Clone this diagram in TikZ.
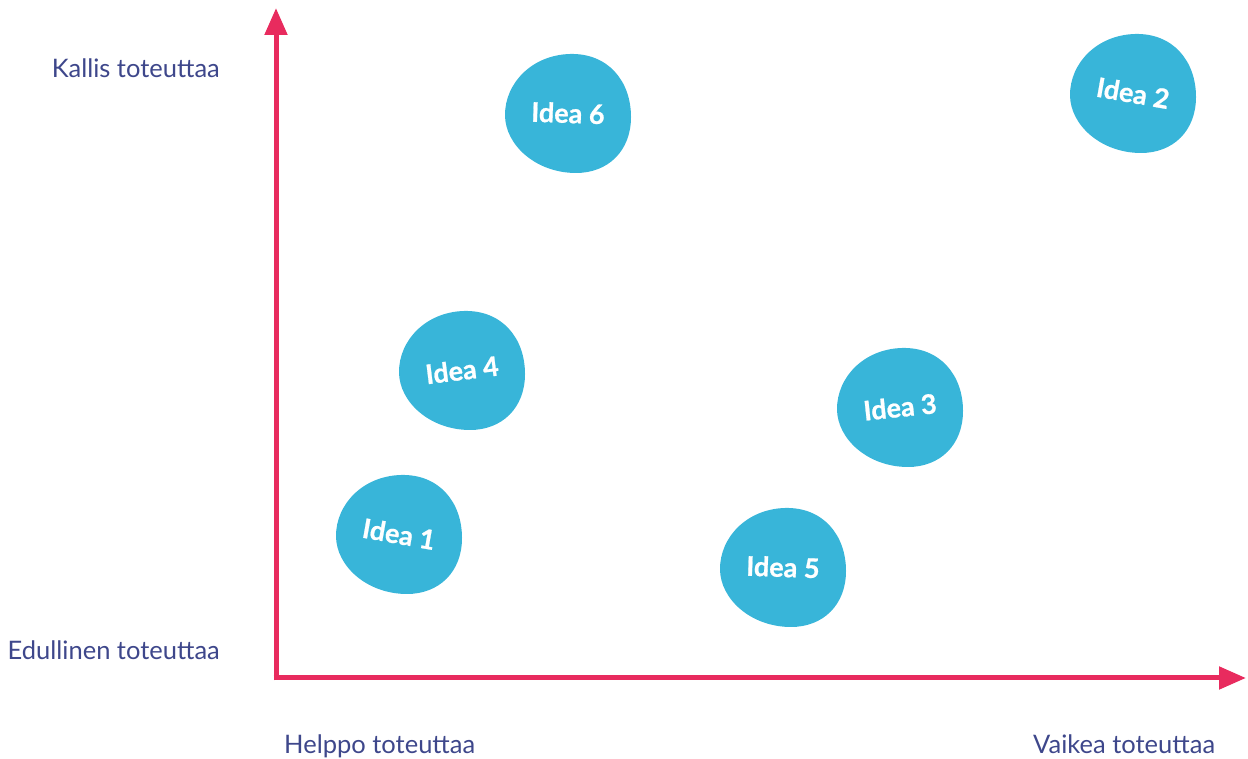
\documentclass[tikz,border=0pt]{standalone}
\usepackage{fontspec}
\setmainfont{Lato}
\newfontfamily\ideafont{Lato}[BoldFeatures={FakeBold=0.8}]
\usetikzlibrary{arrows.meta}

\definecolor{ideablue}{HTML}{38B5D9}
\definecolor{axisred}{HTML}{E82B5E}
\definecolor{labelblue}{HTML}{3E478B}

\tikzset{
  axis/.style={draw=axisred, line width=5pt, -{Triangle[length=27pt,width=22pt]}},
  axislabel/.style={text=labelblue, font=\fontsize{25.5}{29}\selectfont, inner sep=0pt},
  ideatext/.style={text=white, font=\ideafont\fontsize{27}{30}\selectfont\bfseries, inner sep=0pt},
  blobfill/.style={fill=ideablue, draw=none}
}

% name, centre, text rotation, text
\newcommand{\ideablob}[4]{%
  \fill[blobfill, shift={#2}] (2,59)
    .. controls (40,60) and (63,32) .. (63,-4)
    .. controls (63,-38) and (40,-60) .. (8,-60)
    .. controls (-32,-60) and (-63,-32) .. (-63,-2)
    .. controls (-63,30) and (-36,58) .. cycle;
  \node[ideatext, rotate=#3] (#1) at #2 {#4};
}

\begin{document}
\begin{tikzpicture}[x=1pt,y=1pt]
\useasboundingbox (0,0) rectangle (1248,758);

% axes
\coordinate (orig) at (276,80);
\coordinate (ytop) at (276,750);
\coordinate (xend) at (1246,80);
\draw[axis] ([yshift=-2.5pt]orig) -- (ytop);
\draw[axis] ([xshift=-2.5pt]orig) -- (xend);

% axis labels
\node[axislabel, anchor=base east] (costhigh) at (220,680) {Kallis toteuttaa};
\node[axislabel, anchor=base east] (costlow) at (220,98) {Edullinen toteuttaa};
\node[axislabel, anchor=base west] (easy) at (284,5) {Helppo toteuttaa};
\node[axislabel, anchor=base west] (hard) at (1033,5) {Vaikea toteuttaa};

% ideas
\ideablob{idea6}{(568,645)}{-2}{Idea 6}
\ideablob{idea2}{(1133,665)}{-10}{Idea 2}
\ideablob{idea4}{(462,388)}{7}{Idea 4}
\ideablob{idea3}{(900,351)}{6}{Idea 3}
\ideablob{idea1}{(399,224)}{-10}{Idea 1}
\ideablob{idea5}{(783,191)}{-2}{Idea 5}
\end{tikzpicture}
\end{document}
